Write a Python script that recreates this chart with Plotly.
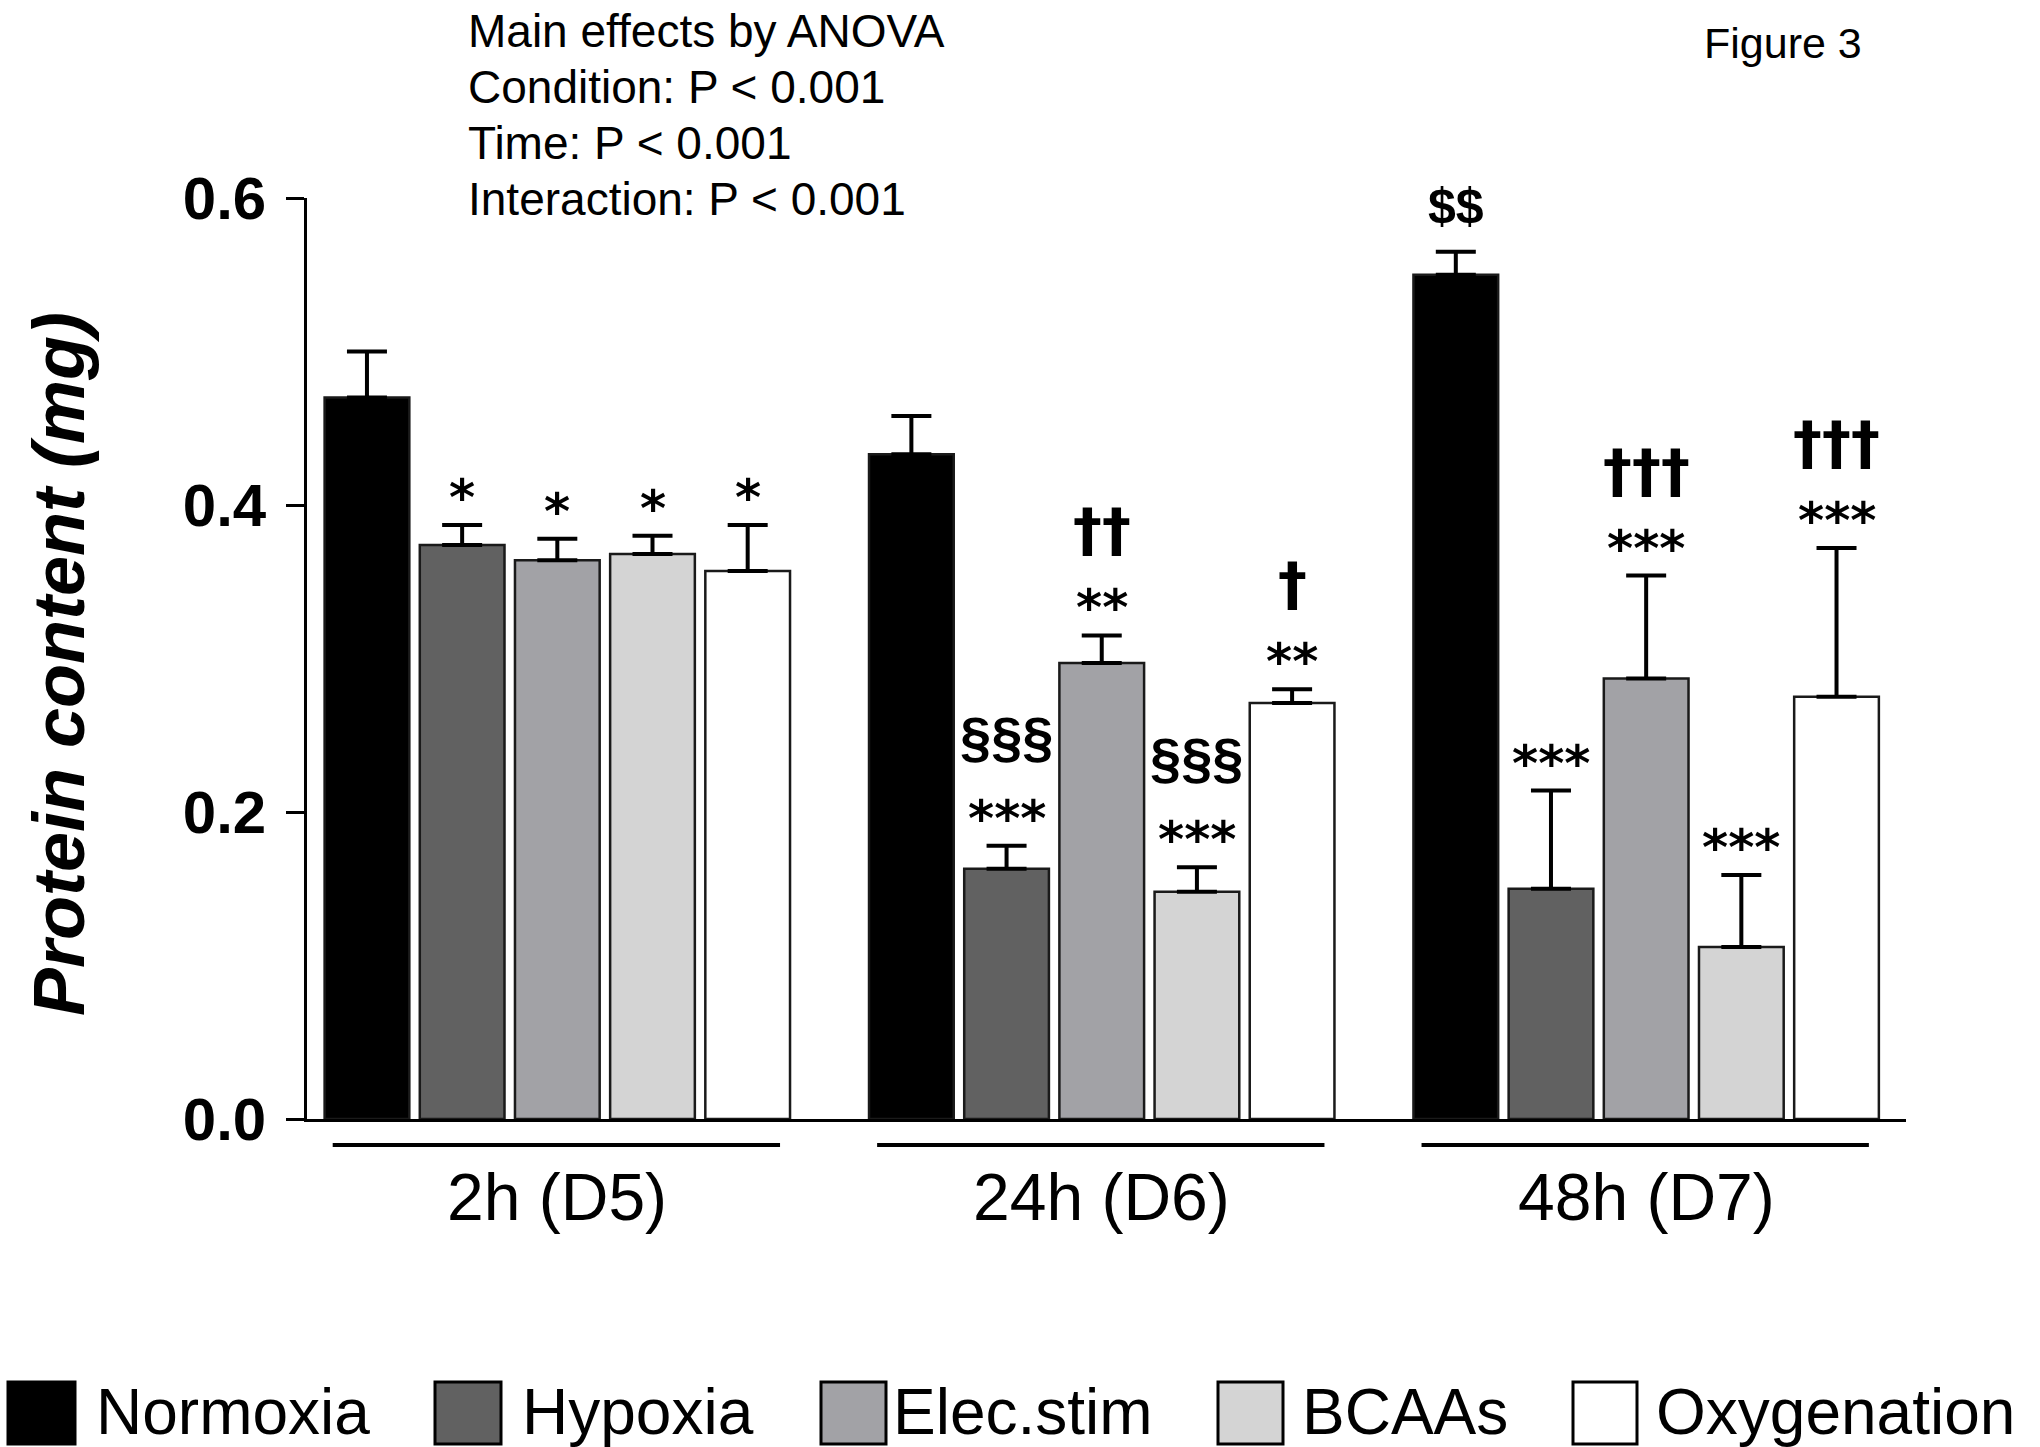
import plotly.graph_objects as go

# ---------------- data ----------------
time_points = ["2h (D5)", "24h (D6)", "48h (D7)"]
conditions = ["Normoxia", "Hypoxia", "Elec.stim", "BCAAs", "Oxygenation"]

normoxia_mean = [0.470, 0.433, 0.550]
hypoxia_mean = [0.374, 0.163, 0.150]
elecstim_mean = [0.364, 0.297, 0.287]
bcaa_mean = [0.368, 0.148, 0.112]
oxygenation_mean = [0.357, 0.271, 0.275]

normoxia_sem = [0.030, 0.025, 0.015]
hypoxia_sem = [0.013, 0.015, 0.064]
elecstim_sem = [0.014, 0.018, 0.067]
bcaa_sem = [0.012, 0.016, 0.047]
oxygenation_sem = [0.030, 0.009, 0.097]

# significance marks per time point: (lower row, upper row)
normoxia_sig = [("", ""), ("", ""), ("$$", "")]
hypoxia_sig = [("*", ""), ("***", "§§§"), ("***", "")]
elecstim_sig = [("*", ""), ("**", "††"), ("***", "†††")]
bcaa_sig = [("*", ""), ("***", "§§§"), ("***", "")]
oxygenation_sig = [("*", ""), ("**", "†"), ("***", "†††")]

y_ticks = [0.0, 0.2, 0.4, 0.6]
y_tick_labels = ["0.0", "0.2", "0.4", "0.6"]
anova_lines = ["Main effects by ANOVA", "Condition: P < 0.001",
               "Time: P < 0.001", "Interaction: P < 0.001"]
figure_label = "Figure 3"
y_title = "Protein content (mg)"

means = [normoxia_mean, hypoxia_mean, elecstim_mean, bcaa_mean, oxygenation_mean]
sems = [normoxia_sem, hypoxia_sem, elecstim_sem, bcaa_sem, oxygenation_sem]
sigs = [normoxia_sig, hypoxia_sig, elecstim_sig, bcaa_sig, oxygenation_sig]

# ---------------- style ----------------
colors = ["#000000", "#616161", "#a2a2a6", "#d4d4d4", "#ffffff"]
GROUP_STEP = 5.72
BAR_W = 0.89
W, H = 2040, 1447
ML, MR, MT, MB = 307, 134, 198, 328
PW, PH = W - ML - MR, H - MT - MB
SANS = "Liberation Sans, Arial, sans-serif"
DEJA = "DejaVu Sans, sans-serif"


def px_x(px):
    return (px - ML) / PW


def px_y(py):
    return (H - MB - py) / PH


def mark_style(txt):
    """font and vertical shift (px) for a significance mark, by glyph kind"""
    if "*" in txt:
        return dict(family=DEJA, size=50, color="black"), -4
    if "$" in txt:
        return dict(family=SANS, size=50, color="black"), 16
    if "§" in txt:
        return dict(family=SANS, size=56, color="black"), 76
    return dict(family=DEJA, size=58, color="black"), 69


fig = go.Figure()
for ci, cond in enumerate(conditions):
    xs = [g * GROUP_STEP + ci for g in range(len(time_points))]
    fig.add_trace(go.Bar(
        x=xs, y=means[ci], width=BAR_W, name=cond,
        marker=dict(color=colors[ci], line=dict(color="#1a1a1a", width=2.5)),
        error_y=dict(type="data", array=sems[ci], arrayminus=[0] * 3,
                     symmetric=False, color="#000000", thickness=4, width=20),
        showlegend=False, hoverinfo="skip",
    ))

annotations = []
shapes = []

# significance marks
for ci in range(len(conditions)):
    for g in range(len(time_points)):
        x = g * GROUP_STEP + ci
        top = means[ci][g] + sems[ci][g]
        for txt in sigs[ci][g]:
            if not txt:
                continue
            fnt, ys = mark_style(txt)
            annotations.append(dict(x=x, y=top, xref="x", yref="y",
                                    text="<b>" + txt + "</b>",
                                    showarrow=False, yanchor="bottom", yshift=ys,
                                    font=fnt))

# group underlines and labels
for g, lab in enumerate(time_points):
    c = g * GROUP_STEP + 2
    shapes.append(dict(type="line", xref="x", yref="paper",
                       x0=c - 2.36, x1=c + 2.34, y0=px_y(1145), y1=px_y(1145),
                       line=dict(color="black", width=4)))
    annotations.append(dict(x=c, y=px_y(1197), xref="x", yref="paper", text=lab,
                            showarrow=False, yanchor="middle",
                            font=dict(family=SANS, size=66, color="black")))

# ANOVA text block
for line, yc in zip(anova_lines, [31, 87, 143, 199]):
    annotations.append(dict(x=px_x(466), y=px_y(yc), xref="paper", yref="paper",
                            text=line, showarrow=False, xanchor="left", yanchor="middle",
                            font=dict(family=SANS, size=46, color="black")))

annotations.append(dict(x=px_x(1702), y=px_y(43), xref="paper", yref="paper",
                        text=figure_label, showarrow=False, xanchor="left",
                        yanchor="middle", font=dict(family=SANS, size=43, color="black")))

# y title
annotations.append(dict(x=px_x(59), y=px_y(664), xref="paper", yref="paper",
                        text="<b><i>" + y_title + "</i></b>", showarrow=False,
                        textangle=-90, xanchor="center", yanchor="middle",
                        font=dict(family=SANS, size=72, color="black")))

# legend (manual, large swatches)
legend_sq = [(8, 75), (435, 501), (821, 886), (1218, 1283), (1573, 1637)]
legend_tx = [94, 520, 891, 1300, 1654]
for ci, cond in enumerate(conditions):
    x0, x1 = legend_sq[ci]
    shapes.append(dict(type="rect", xref="paper", yref="paper",
                       x0=px_x(x0), x1=px_x(x1), y0=px_y(1444), y1=px_y(1382),
                       fillcolor=colors[ci], line=dict(color="black", width=3)))
    annotations.append(dict(x=px_x(legend_tx[ci]), y=px_y(1412), xref="paper",
                            yref="paper", text=cond, showarrow=False,
                            xanchor="left", yanchor="middle",
                            font=dict(family=SANS, size=64, color="black")))

fig.update_layout(
    width=W, height=H, autosize=False,
    margin=dict(l=ML, r=MR, t=MT, b=MB, pad=0),
    paper_bgcolor="white", plot_bgcolor="white",
    barmode="overlay",
    annotations=annotations, shapes=shapes,
    xaxis=dict(range=[-0.63, 16.17], showticklabels=False, ticks="",
               showgrid=False, zeroline=False, showline=True,
               linecolor="black", linewidth=2.5, fixedrange=True),
    yaxis=dict(range=[0, 0.6], tickvals=y_ticks, ticktext=y_tick_labels,
               ticks="outside", ticklen=18, tickwidth=2.5, tickcolor="black",
               showgrid=False, zeroline=False, showline=True,
               linecolor="black", linewidth=2.5, ticklabelstandoff=8,
               fixedrange=True,
               tickfont=dict(family=SANS, size=60, color="black", weight="bold")),
)

fig.write_html("out.html",
               config={"displayModeBar": False},
               post_script="document.body.style.margin='0';"
                           "document.body.style.overflow='hidden';")
